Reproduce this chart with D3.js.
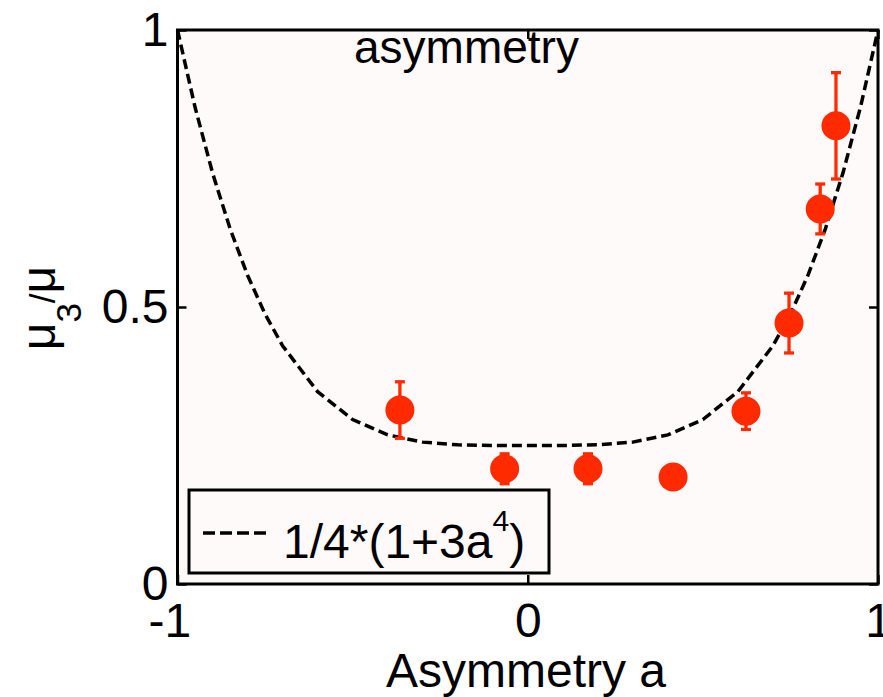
<!DOCTYPE html>
<html>
<head>
<meta charset="utf-8">
<script src="https://cdn.jsdelivr.net/npm/d3@7"></script>
<style>
  html, body { margin: 0; padding: 0; background: #ffffff; }
  svg { display: block; font-family: "Liberation Sans", Arial, Helvetica, sans-serif; }
</style>
</head>
<body>
<svg id="chart" width="883" height="697"></svg>
<script>
// Measured third-moment ratio against asymmetry
const asym   = [-0.365, -0.066, 0.172, 0.415, 0.623, 0.746, 0.835, 0.880];
const ratio  = [0.314, 0.208, 0.208, 0.193, 0.312, 0.471, 0.677, 0.827];
const errBar = [0.051, 0.027, 0.027, 0.010, 0.033, 0.054, 0.045, 0.096];

// Model curve 1/4*(1+3a^4), evaluated at sample positions
const modelA = [-1, -0.95, -0.9, -0.85, -0.8, -0.75, -0.7, -0.6, -0.5, -0.4, -0.3,
                -0.2, -0.1, 0, 0.1, 0.2, 0.3, 0.4, 0.5, 0.6, 0.7, 0.75, 0.8,
                0.85, 0.9, 0.95, 1];
const model = a => 0.25 * (1 + 3 * Math.pow(a, 4));

const xTicks = [-1, 0, 1];
const yTicks = [0, 0.5, 1];

const plot = { left: 177.5, right: 878, top: 30, bottom: 584 };
const red = "#ff2a00";
const bg = "#fffafa";

const svg = d3.select("#chart");

const x = d3.scaleLinear().domain([-1, 1]).range([plot.left, plot.right]);
const y = d3.scaleLinear().domain([0, 1]).range([plot.bottom, plot.top]);

// plot background
svg.append("rect")
  .attr("x", plot.left).attr("y", plot.top)
  .attr("width", plot.right - plot.left).attr("height", plot.bottom - plot.top)
  .attr("fill", bg);

// model curve
svg.append("path")
  .datum(modelA)
  .attr("fill", "none")
  .attr("stroke", "#000")
  .attr("stroke-width", 3.5)
  .attr("stroke-dasharray", "10,5")
  .attr("d", d3.line().x(a => x(a)).y(a => y(model(a))));

// error bars
const pts = asym.map((a, i) => ({ a, v: ratio[i], e: errBar[i] }));
const eb = svg.append("g").attr("stroke", red).attr("stroke-width", 3.3);
eb.selectAll("line.v").data(pts).join("line")
  .attr("x1", d => x(d.a)).attr("x2", d => x(d.a))
  .attr("y1", d => y(d.v - d.e)).attr("y2", d => y(d.v + d.e));
eb.selectAll("line.t").data(pts).join("line")
  .attr("x1", d => x(d.a) - 5).attr("x2", d => x(d.a) + 5)
  .attr("y1", d => y(d.v + d.e)).attr("y2", d => y(d.v + d.e));
eb.selectAll("line.b").data(pts).join("line")
  .attr("x1", d => x(d.a) - 5).attr("x2", d => x(d.a) + 5)
  .attr("y1", d => y(d.v - d.e)).attr("y2", d => y(d.v - d.e));

// markers
svg.append("g").selectAll("circle").data(pts).join("circle")
  .attr("cx", d => x(d.a)).attr("cy", d => y(d.v))
  .attr("r", 14.5)
  .attr("fill", red);

// axes with inward ticks
function styleAxis(g) {
  g.select(".domain").remove();
  g.selectAll(".tick line").attr("stroke", "#000").attr("stroke-width", 2.5);
  g.selectAll(".tick text")
    .attr("fill", "#000")
    .style("font-size", "48px")
    .style("font-family", "'Liberation Sans', Arial, Helvetica, sans-serif");
}

const gBottom = svg.append("g")
  .attr("transform", `translate(0,${plot.bottom})`)
  .call(d3.axisBottom(x).tickValues(xTicks).tickSize(-9).tickPadding(19)
    .tickFormat(d => String(d)))
  .call(styleAxis);
gBottom.selectAll(".tick text").filter(d => d < 0).attr("dx", "-0.17em");

svg.append("g")
  .attr("transform", `translate(0,${plot.top})`)
  .call(d3.axisTop(x).tickValues(xTicks).tickSize(-9).tickFormat(""))
  .call(styleAxis);

svg.append("g")
  .attr("transform", `translate(${plot.left},0)`)
  .call(d3.axisLeft(y).tickValues(yTicks).tickSize(-9).tickPadding(9)
    .tickFormat(d => String(d)))
  .call(styleAxis);

svg.append("g")
  .attr("transform", `translate(${plot.right},0)`)
  .call(d3.axisRight(y).tickValues(yTicks).tickSize(-9).tickFormat(""))
  .call(styleAxis);

// frame
svg.append("rect")
  .attr("x", plot.left).attr("y", plot.top)
  .attr("width", plot.right - plot.left).attr("height", plot.bottom - plot.top)
  .attr("fill", "none").attr("stroke", "#000").attr("stroke-width", 3);

// title inside the axes
svg.append("text")
  .attr("x", 354).attr("y", 63)
  .style("font-size", "46px")
  .attr("fill", "#000")
  .text("asymmetry");

// x label
svg.append("text")
  .attr("x", 526).attr("y", 687)
  .attr("text-anchor", "middle")
  .style("font-size", "48px")
  .attr("fill", "#000")
  .text("Asymmetry a");

// y label: μ₃/μ
const yl = svg.append("text")
  .attr("transform", "translate(55,308) rotate(-90)")
  .attr("text-anchor", "middle")
  .attr("fill", "#000")
  .style("font-size", "48px");
yl.append("tspan").text("μ");
yl.append("tspan").attr("dy", 26).style("font-size", "35px").text("3");
yl.append("tspan").attr("dy", -26).style("font-size", "35px").text("/");
yl.append("tspan").text("μ");

// legend
const lg = svg.append("g");
lg.append("rect")
  .attr("x", 189).attr("y", 490).attr("width", 360).attr("height", 83)
  .attr("fill", bg).attr("stroke", "#000").attr("stroke-width", 3);
lg.append("line")
  .attr("x1", 203).attr("x2", 270).attr("y1", 533).attr("y2", 533)
  .attr("stroke", "#000").attr("stroke-width", 3.5).attr("stroke-dasharray", "12,5");
const lt = lg.append("text")
  .attr("x", 283).attr("y", 558)
  .attr("fill", "#000")
  .style("font-size", "48px");
lt.append("tspan").text("1/4*(1+3a");
lt.append("tspan").attr("dy", -27).style("font-size", "30px").text("4");
lt.append("tspan").attr("dy", 27).text(")");
</script>
</body>
</html>
